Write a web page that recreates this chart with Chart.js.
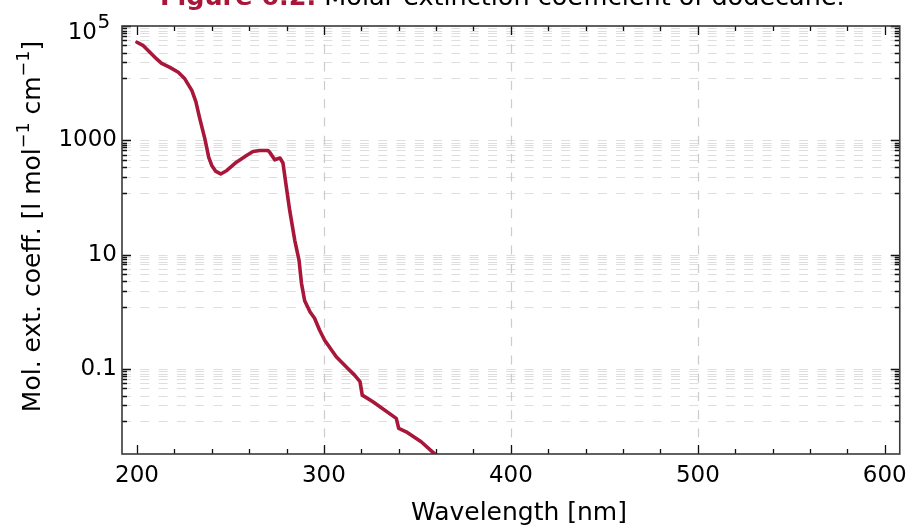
<!DOCTYPE html>
<html><head><meta charset="utf-8">
<script src="https://cdn.jsdelivr.net/npm/chart.js@4.4.1/dist/chart.umd.min.js"></script>
<style>html,body{margin:0;padding:0;background:#fff;}#wrap{width:915px;height:526px;}</style>
</head><body><div id="wrap"><canvas id="c" width="915" height="526"></canvas></div>
<script>
// ---- data ----
const wavelengths = [200,203.4,206.9,210.5,213.2,217.6,222.1,225.6,229.4,231.5,233.6,236.3,238.4,240.0,242.2,244.8,248.1,253.2,258.6,262.1,265.7,270.1,271,273.7,276.5,278.1,279.9,281.7,284.4,286.7,288,289.7,292.6,295,297.7,300.4,306.6,312.4,316.4,319.3,320.5,326.2,338.7,340,344,352,360];
const molarExt = [52000,45300,34600,26500,22200,18900,15500,11900,7410,4760,2400,1070,501,363,285,258,297,414,542,637,663,663,620,456,491,401,152,59.4,17.8,7.95,3.15,1.56,0.99,0.77,0.476,0.318,0.163,0.105,0.078,0.060,0.0348,0.0266,0.01365,0.00914,0.00796,0.00533,0.0031];
const xMajorTicks = [200,300,400,500,600];
const xMinorTicks = [220,240,260,280,320,340,360,380,420,440,460,480,520,540,560,580];
const xGridTicks = [300,400,500];
const yMajorTicks = [0.1,10,1000,100000];
const yTickLabels = ['0.1','10','1000',''];
const yMinorFactors = [0.9115,0.8275,0.7544,0.6767,0.5622,0.4596,0.3411,0.2317,0.1216];
const titleBold = 'Figure 6.2.';
const titleRest = ' Molar extinction coefficient of dodecane.';
const xTitle = 'Wavelength [nm]';
const yTitleParts = [['Mol. ext. coeff. [l mol',false],['\u22121',true],[' cm',false],['\u22121',true],[']',false]];

const CRIMSON = '#A8173A';
const FONT = '"DejaVu Sans", sans-serif';

const decor = {
  id: 'decor',
  beforeDatasetsDraw(chart) {
    const {ctx, chartArea: a, scales: {x, y}} = chart;
    ctx.save();
    ctx.lineWidth = 1.2;
    ctx.strokeStyle = '#dedede';
    ctx.setLineDash([9, 9.3]);
    const hs = [];
    yMajorTicks.forEach(m => { hs.push(m); yMinorFactors.forEach(f => hs.push(m * f)); });
    hs.forEach(v => {
      const py = Math.round(y.getPixelForValue(v)) + 0.5;
      if (py < a.top - 0.5 || py > a.bottom + 0.5) return;
      ctx.beginPath(); ctx.moveTo(a.left, py); ctx.lineTo(a.right, py); ctx.stroke();
    });
    ctx.strokeStyle = '#cccccc';
    xGridTicks.forEach(v => {
      const px = Math.round(x.getPixelForValue(v)) + 0.5;
      ctx.beginPath(); ctx.moveTo(px, a.top); ctx.lineTo(px, a.bottom); ctx.stroke();
    });
    ctx.restore();
  },
  afterDatasetsDraw(chart) {
    const {ctx, chartArea: a, scales: {x, y}} = chart;
    ctx.save();
    ctx.strokeStyle = '#111';
    ctx.lineWidth = 1.3;
    const tickX = (v, len) => {
      const px = Math.round(x.getPixelForValue(v)) + 0.5;
      ctx.beginPath();
      ctx.moveTo(px, a.bottom); ctx.lineTo(px, a.bottom - len);
      ctx.moveTo(px, a.top); ctx.lineTo(px, a.top + len);
      ctx.stroke();
    };
    xMajorTicks.forEach(v => tickX(v, 9));
    xMinorTicks.forEach(v => tickX(v, 5));
    const tickY = (v, len) => {
      const py = Math.round(y.getPixelForValue(v)) + 0.5;
      if (py < a.top - 0.5 || py > a.bottom + 0.5) return;
      ctx.beginPath();
      ctx.moveTo(a.left, py); ctx.lineTo(a.left + len, py);
      ctx.moveTo(a.right, py); ctx.lineTo(a.right - len, py);
      ctx.stroke();
    };
    yMajorTicks.forEach(m => { tickY(m, 9); yMinorFactors.forEach(f => tickY(m * f, 5)); });
    ctx.strokeStyle = '#3a3a3a';
    ctx.lineWidth = 1.6;
    ctx.strokeRect(a.left, a.top, a.right - a.left, a.bottom - a.top);

    ctx.fillStyle = '#000';
    ctx.textAlign = 'right'; ctx.textBaseline = 'alphabetic';
    ctx.font = `23px ${FONT}`;
    ctx.fillText('10', 97, 38.5);
    ctx.textAlign = 'left';
    ctx.font = `20px ${FONT}`;
    ctx.fillText('5', 97.5, 28.3);

    ctx.textAlign = 'left';
    ctx.font = `bold 25.5px ${FONT}`;
    ctx.fillStyle = CRIMSON;
    ctx.fillText(titleBold, 160, 4.5);
    const w = ctx.measureText(titleBold).width;
    ctx.font = `25.5px ${FONT}`;
    ctx.fillStyle = '#000';
    ctx.fillText(titleRest, 160 + w, 4.5);

    ctx.textAlign = 'center';
    ctx.font = `25px ${FONT}`;
    ctx.fillText(xTitle, 519, 520);

    const fs = 25, sfs = 17.5;
    let total = 0;
    const widths = yTitleParts.map(([t, sup]) => {
      ctx.font = `${sup ? sfs : fs}px ${FONT}`;
      const ww = ctx.measureText(t).width; total += ww; return ww;
    });
    ctx.translate(40, 226.5 + total / 2);
    ctx.rotate(-Math.PI / 2);
    ctx.textAlign = 'left';
    let cx = 0;
    yTitleParts.forEach(([t, sup], i) => {
      ctx.font = `${sup ? sfs : fs}px ${FONT}`;
      ctx.fillText(t, cx, sup ? -11 : 0);
      cx += widths[i];
    });
    ctx.restore();
  }
};

new Chart(document.getElementById('c'), {
  type: 'line',
  data: {
    datasets: [{
      data: wavelengths.map((w, i) => ({x: w, y: molarExt[i]})),
      borderColor: CRIMSON,
      borderWidth: 3.6,
      pointRadius: 0,
      tension: 0,
      borderJoinStyle: 'round',
      borderCapStyle: 'round',
      fill: false,
      clip: 0
    }]
  },
  options: {
    responsive: false,
    animation: false,
    devicePixelRatio: 1,
    layout: {padding: {top: 26, right: 13, bottom: 0, left: 0}},
    plugins: {legend: {display: false}, tooltip: {enabled: false}, title: {display: false}},
    scales: {
      x: {
        type: 'linear', min: 192, max: 608,
        afterFit: s => { s.height = 72; },
        afterBuildTicks: s => { s.ticks = xMajorTicks.map(v => ({value: v})); },
        grid: {display: false, drawTicks: false},
        border: {display: false},
        ticks: {font: {family: 'DejaVu Sans', size: 23}, color: '#000', padding: 8, maxRotation: 0, autoSkip: false}
      },
      y: {
        type: 'logarithmic', min: 0.00325, max: 100000,
        afterFit: s => { s.width = 122; },
        afterBuildTicks: s => { s.ticks = yMajorTicks.map(v => ({value: v})); },
        grid: {display: false, drawTicks: false},
        border: {display: false},
        ticks: {font: {family: 'DejaVu Sans', size: 23}, color: '#000', padding: 5, autoSkip: false,
          callback: (v, i) => yTickLabels[i]}
      }
    }
  },
  plugins: [decor]
});
</script></body></html>
